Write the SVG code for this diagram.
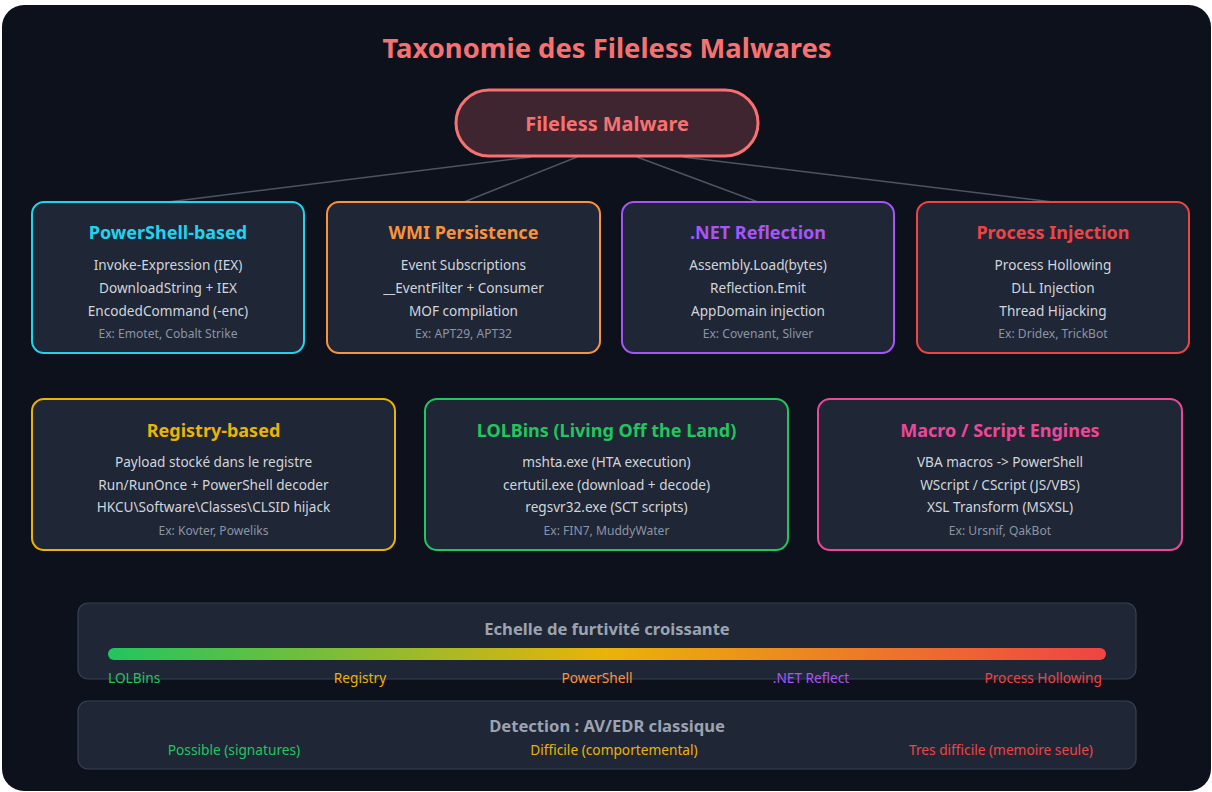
<svg xmlns="http://www.w3.org/2000/svg" width="1212" height="792" viewBox="0 0 1212 792">
<defs>
<linearGradient id="stealth" x1="0" y1="0" x2="1" y2="0">
<stop offset="0" stop-color="#22c55e"/>
<stop offset="0.5" stop-color="#eab308"/>
<stop offset="1" stop-color="#ef4444"/>
</linearGradient>
<style>
text{font-family:"Noto Sans","Open Sans","Liberation Sans",sans-serif;text-anchor:middle}
.title{font-size:27.4px;font-weight:700;fill:#f87171}
.box{fill:#1f2636;stroke-width:2}
.bt{font-size:18px;font-weight:700}
.ln{font-size:13.6px;fill:#d1d5db}
.ex{font-size:12.1px;fill:#8b95a5}
.conn{stroke:#4b5563;stroke-width:1.5;fill:none}
.panel{fill:#1f2737;stroke:#374151;stroke-width:1.2}
.pt{font-size:16.6px;font-weight:700;fill:#9ca3af}
.lb{font-size:13.7px}
</style>
</defs>
<rect x="2" y="5" width="1209" height="786" rx="22" fill="#0d111c"/>
<text class="title" x="607" y="58">Taxonomie des Fileless Malwares</text>

<g id="connectors">
<line class="conn" x1="531" y1="157" x2="168" y2="202"/>
<line class="conn" x1="577" y1="157" x2="464" y2="202"/>
<line class="conn" x1="637" y1="157" x2="758" y2="202"/>
<line class="conn" x1="683" y1="157" x2="1053" y2="202"/>
</g>

<g id="root">
<rect x="456" y="90" width="302" height="66" rx="33" fill="#3f2530" stroke="#f87171" stroke-width="3"/>
<text x="607" y="131" style="font-size:19.9px;font-weight:700;fill:#f87171">Fileless Malware</text>
</g>

<g id="powershell">
<rect class="box" x="32" y="202" width="272" height="151" rx="12" stroke="#22d3ee"/>
<text class="bt" x="168" y="239" fill="#22d3ee">PowerShell-based</text>
<text class="ln" x="168" y="270">Invoke-Expression (IEX)</text>
<text class="ln" x="168" y="293">DownloadString + IEX</text>
<text class="ln" x="168" y="316">EncodedCommand (-enc)</text>
<text class="ex" x="168" y="338">Ex: Emotet, Cobalt Strike</text>
</g>

<g id="wmi">
<rect class="box" x="327" y="202" width="273" height="151" rx="12" stroke="#fb923c"/>
<text class="bt" x="463.5" y="239" fill="#fb923c">WMI Persistence</text>
<text class="ln" x="463.5" y="270">Event Subscriptions</text>
<text class="ln" x="463.5" y="293">__EventFilter + Consumer</text>
<text class="ln" x="463.5" y="316">MOF compilation</text>
<text class="ex" x="463.5" y="338">Ex: APT29, APT32</text>
</g>

<g id="dotnet">
<rect class="box" x="622" y="202" width="272" height="151" rx="12" stroke="#a855f7"/>
<text class="bt" x="758" y="239" fill="#a855f7">.NET Reflection</text>
<text class="ln" x="758" y="270">Assembly.Load(bytes)</text>
<text class="ln" x="758" y="293">Reflection.Emit</text>
<text class="ln" x="758" y="316">AppDomain injection</text>
<text class="ex" x="758" y="338">Ex: Covenant, Sliver</text>
</g>

<g id="injection">
<rect class="box" x="917" y="202" width="272" height="151" rx="12" stroke="#ef4444"/>
<text class="bt" x="1053" y="239" fill="#ef4444">Process Injection</text>
<text class="ln" x="1053" y="270">Process Hollowing</text>
<text class="ln" x="1053" y="293">DLL Injection</text>
<text class="ln" x="1053" y="316">Thread Hijacking</text>
<text class="ex" x="1053" y="338">Ex: Dridex, TrickBot</text>
</g>

<g id="registry">
<rect class="box" x="32" y="399" width="363" height="151" rx="12" stroke="#eab308"/>
<text class="bt" x="213.5" y="437" fill="#eab308">Registry-based</text>
<text class="ln" x="213.5" y="467">Payload stocké dans le registre</text>
<text class="ln" x="213.5" y="490">Run/RunOnce + PowerShell decoder</text>
<text class="ln" x="213.5" y="512">HKCU\Software\Classes\CLSID hijack</text>
<text class="ex" x="213.5" y="535">Ex: Kovter, Poweliks</text>
</g>

<g id="lolbins">
<rect class="box" x="425" y="399" width="363" height="151" rx="12" stroke="#22c55e"/>
<text class="bt" x="606.5" y="437" fill="#22c55e">LOLBins (Living Off the Land)</text>
<text class="ln" x="606.5" y="467">mshta.exe (HTA execution)</text>
<text class="ln" x="606.5" y="490">certutil.exe (download + decode)</text>
<text class="ln" x="606.5" y="512">regsvr32.exe (SCT scripts)</text>
<text class="ex" x="606.5" y="535">Ex: FIN7, MuddyWater</text>
</g>

<g id="macro">
<rect class="box" x="818" y="399" width="364" height="151" rx="12" stroke="#ec4899"/>
<text class="bt" x="1000" y="437" fill="#ec4899">Macro / Script Engines</text>
<text class="ln" x="1000" y="467">VBA macros -&gt; PowerShell</text>
<text class="ln" x="1000" y="490">WScript / CScript (JS/VBS)</text>
<text class="ln" x="1000" y="512">XSL Transform (MSXSL)</text>
<text class="ex" x="1000" y="535">Ex: Ursnif, QakBot</text>
</g>

<g id="stealth-scale">
<rect class="panel" x="78" y="603" width="1058" height="76" rx="10"/>
<text class="pt" x="607" y="635">Echelle de furtivité croissante</text>
<rect x="108" y="648" width="998" height="12" rx="6" fill="url(#stealth)"/>
<text class="lb" x="108" y="683" style="text-anchor:start" fill="#22c55e">LOLBins</text>
<text class="lb" x="360" y="683" fill="#eab308">Registry</text>
<text class="lb" x="597" y="683" fill="#fb923c">PowerShell</text>
<text class="lb" x="811" y="683" fill="#a855f7">.NET Reflect</text>
<text class="lb" x="1102" y="683" style="text-anchor:end" fill="#ef4444">Process Hollowing</text>
</g>

<g id="detection">
<rect class="panel" x="78" y="701" width="1058" height="68" rx="10"/>
<text class="pt" x="607" y="732">Detection : AV/EDR classique</text>
<text class="lb" x="234" y="755" fill="#22c55e">Possible (signatures)</text>
<text class="lb" x="614" y="755" fill="#eab308">Difficile (comportemental)</text>
<text class="lb" x="1001" y="755" fill="#ef4444">Tres difficile (memoire seule)</text>
</g>
</svg>
